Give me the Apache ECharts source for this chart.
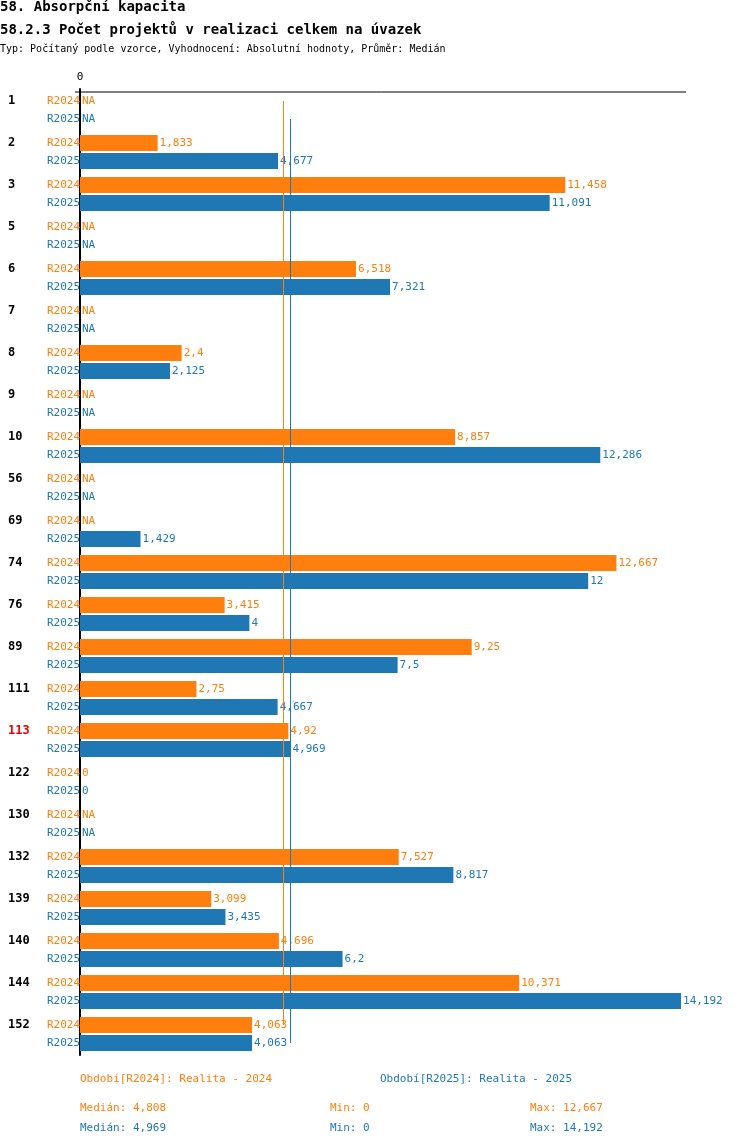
<!DOCTYPE html>
<html><head><meta charset="utf-8">
<script src="https://cdn.jsdelivr.net/npm/echarts@6/dist/echarts.min.js"></script>
<style>body{margin:0;background:#fff}#c{width:750px;height:1148px}</style>
</head><body><div id="c"></div>
<script>
// data
var groups = ['1','2','3','5','6','7','8','9','10','56','69','74','76','89','111','113','122','130','132','139','140','144','152'];
var r2024 = [null,1.833,11.458,null,6.518,null,2.4,null,8.857,null,null,12.667,3.415,9.25,2.75,4.92,0,null,7.527,3.099,4.696,10.371,4.063];
var r2025 = [null,4.677,11.091,null,7.321,null,2.125,null,12.286,null,1.429,12,4,7.5,4.667,4.969,0,null,8.817,3.435,6.2,14.192,4.063];
var median2024 = 4.808, median2025 = 4.969;
var highlight = '113';

var ORANGE = '#ff7f0e', BLUE = '#1f77b4', FONT = 'DejaVu Sans Mono';
var fmt = function (v) { return String(v).replace('.', ','); };
function items(arr) {
  return arr.map(function (v) {
    return v === null ? { value: 0, label: { formatter: 'NA' } } : { value: v };
  });
}

var chart = echarts.init(document.getElementById('c'));
var series = [[r2024, ORANGE, median2024], [r2025, BLUE, median2025]].map(function (s) {
  return {
    type: 'bar', data: items(s[0]), barWidth: 16, barGap: '12.5%',
    itemStyle: { color: s[1] },
    label: { show: true, position: 'right', distance: 2, color: s[1], fontFamily: FONT, fontSize: 11,
      formatter: function (p) { return fmt(p.value); } },
    markLine: { symbol: 'none', silent: true, label: { show: false },
      lineStyle: { color: s[1], type: 'solid', width: 1 },
      data: [[{ coord: [s[2], -0.07], x: null }, { coord: [s[2], 22.1] }]] }
  };
});

chart.setOption({
  animation: false,
  textStyle: { fontFamily: FONT },
  grid: { left: 80, right: 64, top: 89, bottom: 93 },
  xAxis: { type: 'value', position: 'top', min: 0, max: 14.31, interval: 14.31,
    axisLine: { show: false }, axisTick: { show: false }, splitLine: { show: false },
    axisLabel: { margin: 6, color: '#000', fontFamily: FONT, fontSize: 11,
      formatter: function (v) { return v === 0 ? '0' : ''; } } },
  yAxis: { type: 'category', inverse: true, data: groups,
    axisLine: { lineStyle: { color: '#000', width: 2 } }, axisTick: { show: false },
    axisLabel: { align: 'left', margin: 72, lineHeight: 18, fontFamily: FONT, fontSize: 11,
      formatter: function (v) {
        return '{' + (v === highlight ? 'h' : 'g') + '|' + v + '}{a|R2024}\n{s|}{b|R2025}';
      },
      rich: {
        g: { width: 39, color: '#000', fontWeight: 'bold', fontFamily: FONT, fontSize: 12 },
        h: { width: 39, color: '#e00', fontWeight: 'bold', fontFamily: FONT, fontSize: 12 },
        s: { width: 39 },
        a: { color: ORANGE, fontFamily: FONT, fontSize: 11 },
        b: { color: BLUE, fontFamily: FONT, fontSize: 11 }
      } } },
  series: series,
  graphic: [
    { type: 'line', shape: { x1: 75, y1: 92, x2: 686, y2: 92 }, style: { stroke: '#000', lineWidth: 1 } },
    { type: 'text', left: 0, top: 0, style: { text: '58. Absorpční kapacita', font: 'bold 14px ' + FONT, fill: '#000' } },
    { type: 'text', left: 0, top: 23, style: { text: '58.2.3 Počet projektů v realizaci celkem na úvazek', font: 'bold 14px ' + FONT, fill: '#000' } },
    { type: 'text', left: 0, top: 44, style: { text: 'Typ: Počítaný podle vzorce, Vyhodnocení: Absolutní hodnoty, Průměr: Medián', font: '10px ' + FONT, fill: '#000' } },
    { type: 'text', left: 80, top: 1074, style: { text: 'Období[R2024]: Realita - 2024', font: '11px ' + FONT, fill: ORANGE } },
    { type: 'text', left: 380, top: 1074, style: { text: 'Období[R2025]: Realita - 2025', font: '11px ' + FONT, fill: BLUE } },
    { type: 'text', left: 80, top: 1103, style: { text: 'Medián: ' + fmt(median2024), font: '11px ' + FONT, fill: ORANGE } },
    { type: 'text', left: 330, top: 1103, style: { text: 'Min: 0', font: '11px ' + FONT, fill: ORANGE } },
    { type: 'text', left: 530, top: 1103, style: { text: 'Max: 12,667', font: '11px ' + FONT, fill: ORANGE } },
    { type: 'text', left: 80, top: 1123, style: { text: 'Medián: ' + fmt(median2025), font: '11px ' + FONT, fill: BLUE } },
    { type: 'text', left: 330, top: 1123, style: { text: 'Min: 0', font: '11px ' + FONT, fill: BLUE } },
    { type: 'text', left: 530, top: 1123, style: { text: 'Max: 14,192', font: '11px ' + FONT, fill: BLUE } }
  ]
});
</script></body></html>
